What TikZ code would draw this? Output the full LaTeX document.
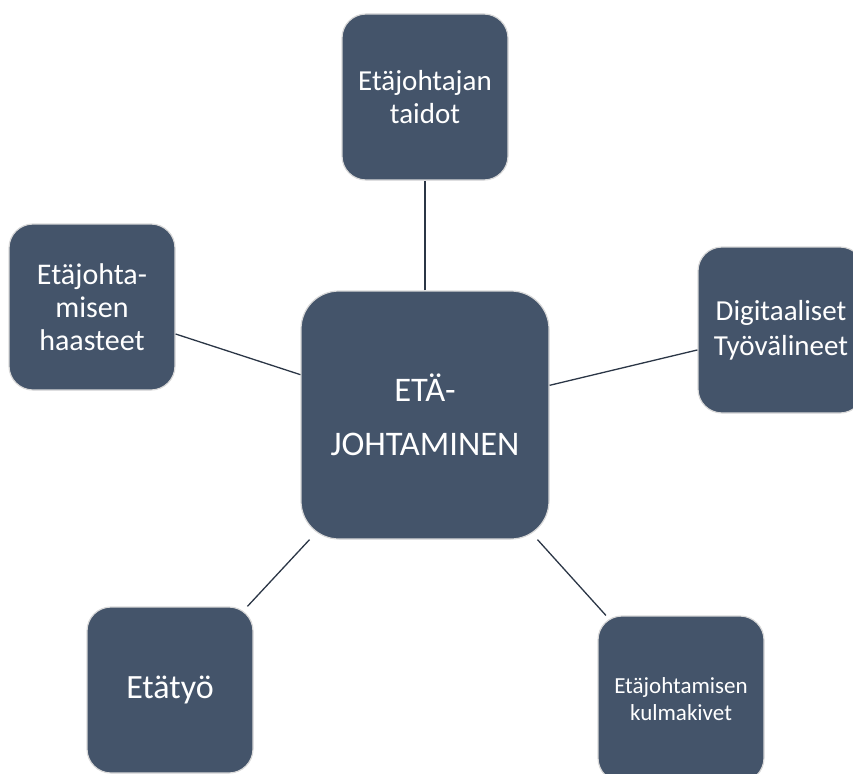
\documentclass[tikz,border=0pt]{standalone}
\usepackage{fontspec}
\setmainfont{Carlito}
\definecolor{slate}{HTML}{44546A}
\definecolor{slateline}{HTML}{2B3646}
\definecolor{rim}{HTML}{D9D9D9}
\begin{document}
\begin{tikzpicture}[x=1pt,y=-1pt,
  topicbox/.style={rectangle,rounded corners=24pt,fill=slate,draw=rim,line width=1.2pt,
    minimum width=166pt,minimum height=166pt,inner sep=0pt,align=center,text=white},
  hubbox/.style={topicbox,rounded corners=38pt,minimum width=248pt,minimum height=248pt},
  link/.style={draw=slateline,line width=1.3pt}]
\clip (0,0) rectangle (853,773);

\node[hubbox,font=\fontsize{34.5}{54}\selectfont] (hub) at (425,415) {ETÄ-\\JOHTAMINEN};

\node[topicbox,font=\fontsize{29}{33}\selectfont] (skills) at (425,97) {Etäjohtajan\\taidot};
\node[topicbox,font=\fontsize{30}{33}\selectfont] (challenges) at (92,307) {Etäjohta-\\misen\\haasteet};
\node[topicbox,font=\fontsize{29}{35}\selectfont] (tools) at (781,330) {Digitaaliset\\Työvälineet};
\node[topicbox,font=\fontsize{34}{40}\selectfont] (remote) at (170,690) {Etätyö};
\node[topicbox,font=\fontsize{23}{27}\selectfont] (corner) at (681,699) {Etäjohtamisen\\kulmakivet};

\draw[link] (hub) -- (skills);
\draw[link] (hub) -- (challenges);
\draw[link] (hub) -- (tools);
\draw[link] (hub) -- (remote);
\draw[link] (hub) -- (corner);
\end{tikzpicture}
\end{document}
